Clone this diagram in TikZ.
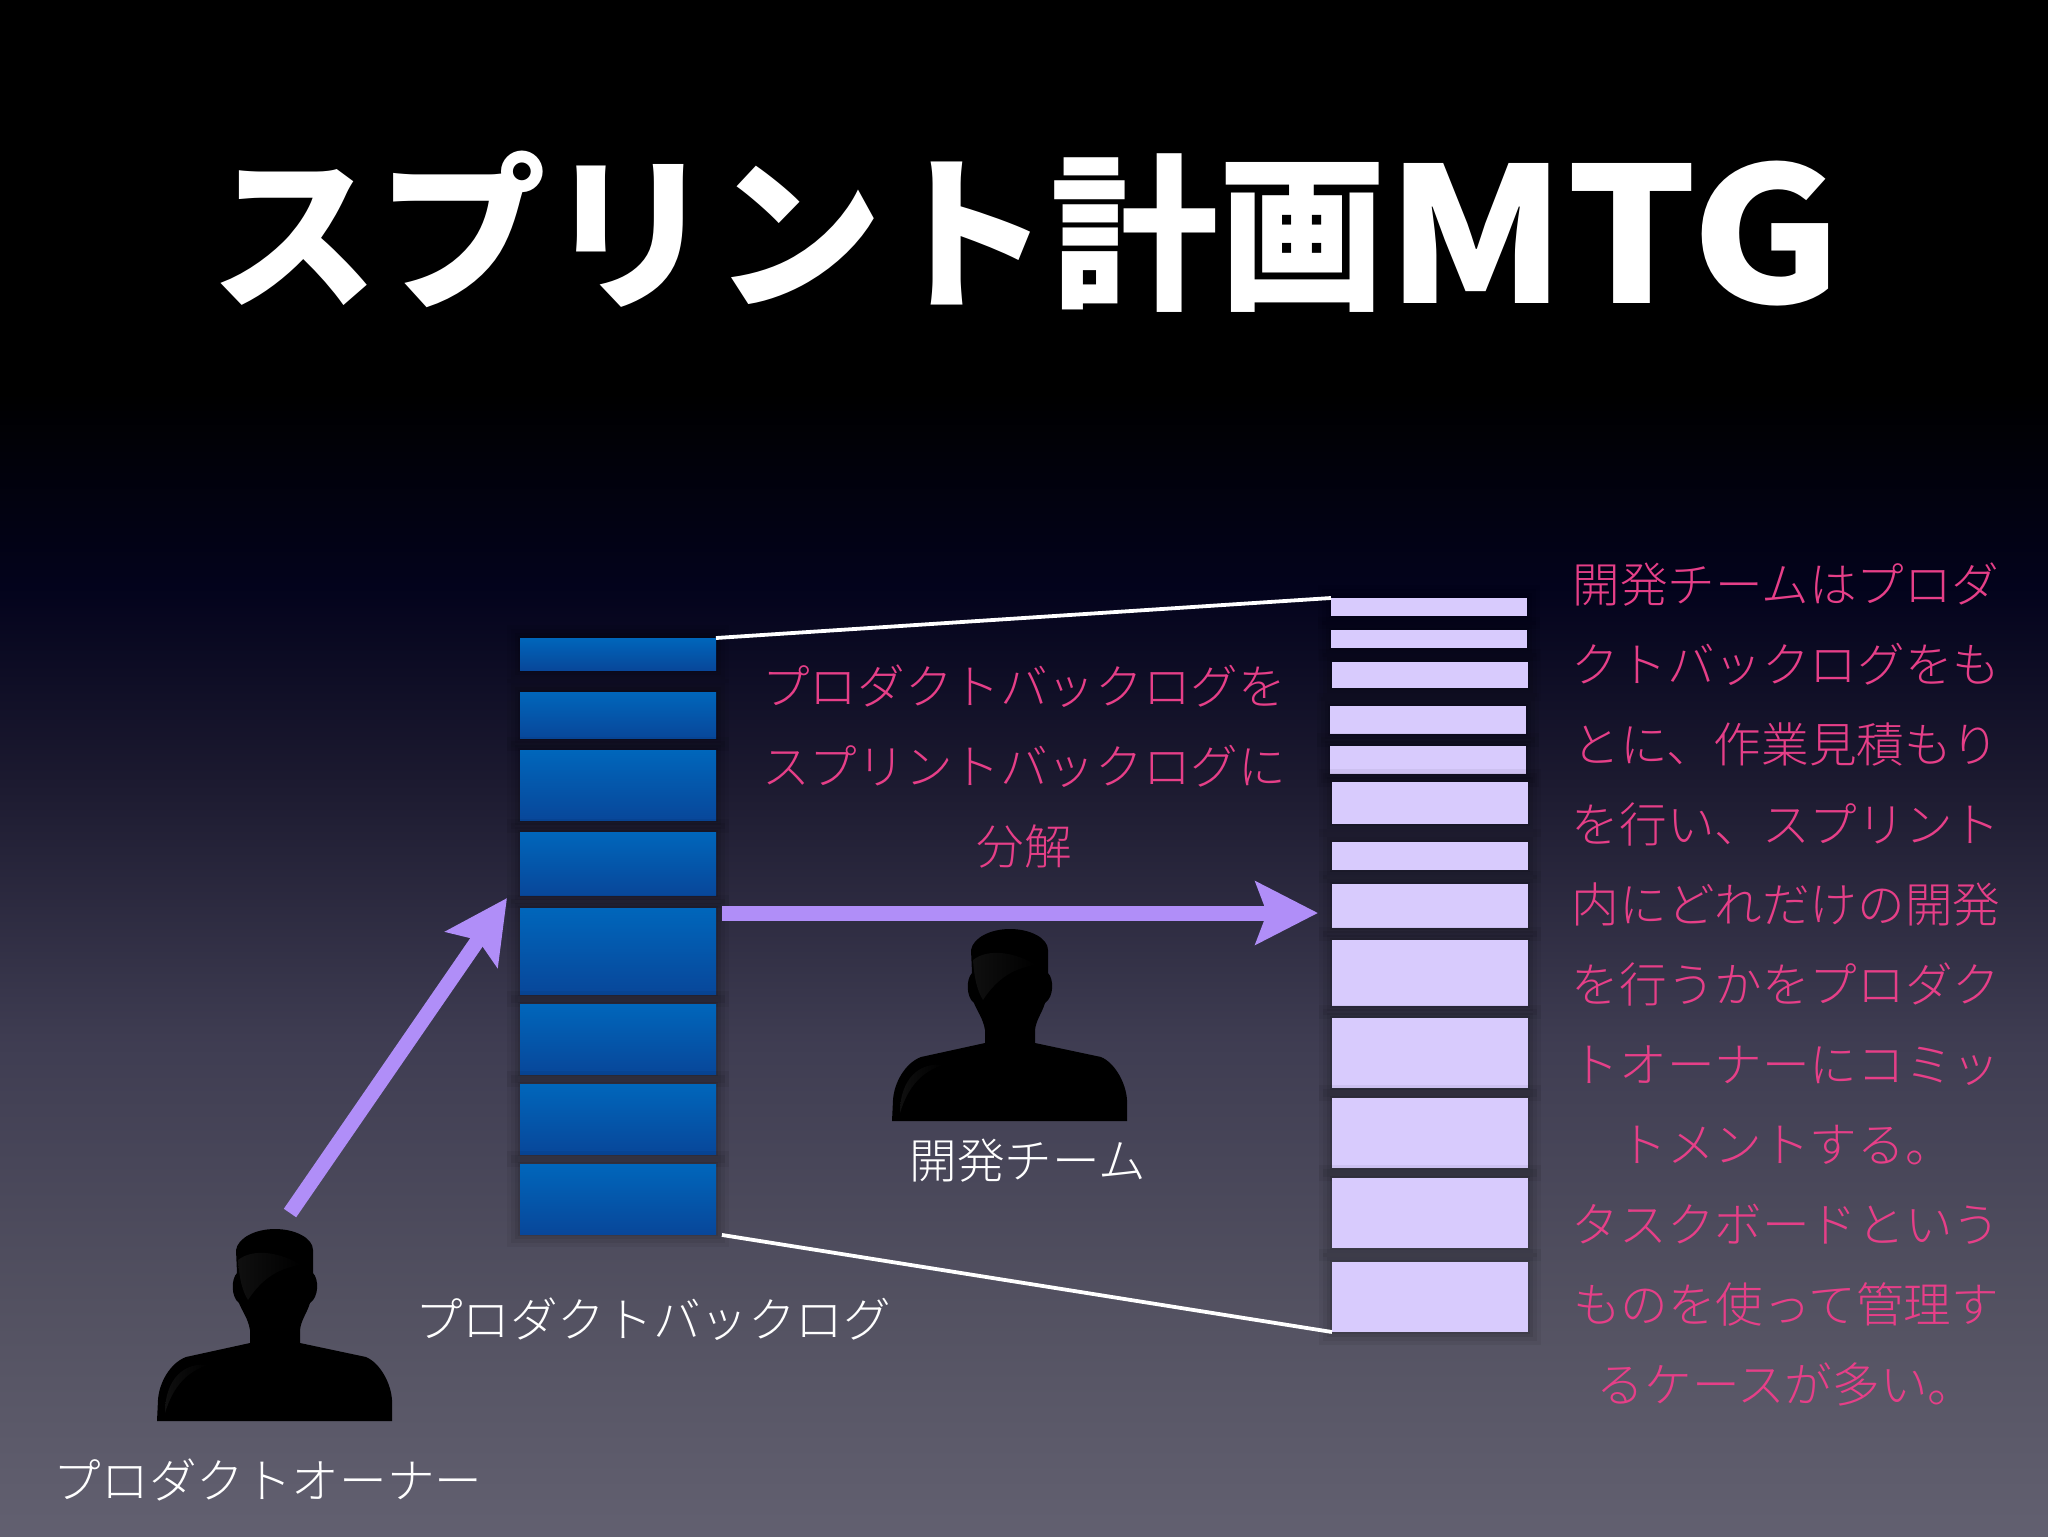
\documentclass[tikz,border=0pt]{standalone}
\usepackage{fontspec}
\setmainfont{Noto Sans CJK JP}[UprightFont=* Light, BoldFont=* Black]
\usetikzlibrary{arrows.meta}

\pgfdeclareverticalshading{slidebg}{100bp}{
	rgb(0bp)=(.384,.376,.439);
	rgb(25bp)=(.384,.376,.439);
	rgb(32.5bp)=(.325,.318,.38);
	rgb(41bp)=(.247,.239,.322);
	rgb(49.5bp)=(.11,.102,.188);
	rgb(55.9bp)=(.012,.012,.11);
	rgb(62.2bp)=(0,0,0);
	rgb(100bp)=(0,0,0)}

\definecolor{barblue}{HTML}{0066BB}
\definecolor{bardeep}{HTML}{08479A}
\definecolor{barlilac}{HTML}{D8CBFD}
\definecolor{arrowlilac}{HTML}{B08EF8}
\definecolor{notepink}{HTML}{E63F88}

\tikzset{
	softedge/.style={
		preaction={draw=black, draw opacity=.05, line width=13pt},
		preaction={draw=black, draw opacity=.06, line width=9pt},
		preaction={draw=black, draw opacity=.07, line width=5pt},
		preaction={draw=black, draw opacity=.08, line width=2pt}},
	backlogbar/.style={softedge, rectangle, inner sep=0pt, outer sep=0pt, minimum width=98pt,
		top color=barblue, bottom color=bardeep},
	sprintbar/.style={softedge, rectangle, inner sep=0pt, outer sep=0pt, minimum width=98pt,
		fill=barlilac},
	edgeline/.style={white, line width=1.9pt},
	bigarrow/.style={arrowlilac, line width=7.5pt, -{Stealth[length=31pt, width=31pt, inset=5.5pt]}},
	caption/.style={white, font=\fontsize{23.8}{40}\selectfont, align=center},
	note/.style={notepink, font=\fontsize{23.8}{40}\selectfont, align=center},
	person/.pic={
		\fill[black] (-118,0) -- (-117,-21) .. controls (-116,-38) and (-105,-58) .. (-89,-64)
			-- (-25,-78) -- (-25,-91) .. controls (-27,-103) and (-33,-110) .. (-36,-118)
			.. controls (-44,-124) and (-44,-142) .. (-38,-148) -- (-39,-171)
			.. controls (-37,-183) and (-20,-192) .. (0,-192)
			.. controls (20,-192) and (38,-183) .. (38,-171) -- (38,-148)
			.. controls (44,-142) and (44,-124) .. (35,-118)
			.. controls (32,-108) and (26,-101) .. (25,-91) -- (25,-78)
			-- (91,-64) .. controls (105,-58) and (116,-38) .. (117,-21) -- (117,0) -- cycle;
		\shade[left color=black!94, right color=black] (-37,-161) .. controls (-36,-145) and (-33,-130) .. (-27,-121)
			.. controls (-12,-144) and (5,-153) .. (26,-156)
			.. controls (5,-169) and (-22,-173) .. (-37,-161) -- cycle;
		\shade[left color=black!94, right color=black] (-110,-8) .. controls (-102,-34) and (-89,-49) .. (-67,-56)
			.. controls (-89,-59) and (-110,-44) .. (-110,-8) -- cycle;
	}
}

\begin{document}
\begin{tikzpicture}[x=0.5pt, y=-0.5pt]

	% Background
	\useasboundingbox (0,0) rectangle (2048,1536);
	\shade[shading=slidebg] (0,0) rectangle (2048,1536);

	% Title
	\node[white, font=\fontsize{84}{84}\selectfont\bfseries, inner sep=0pt] (title) at (1026,232)
		{スプリント計画\raisebox{-3.5pt}{\scalebox{1.09}[1]{\fontsize{94}{94}\selectfont MTG}}};

	% Product backlog
	\foreach \i/\c/\h in {1/654/32, 2/715/46, 3/785/70, 4/863.5/63, 5/951/86, 6/1039/70, 7/1119/70, 8/1199/70}
		\node[backlogbar, minimum height=\h*0.5pt] (blue\i) at (618,\c) {};

	% Sprint backlog
	\foreach \i/\x/\c/\h in {1/1429/607/18, 2/1429/639/18, 3/1430/675/26, 4/1428/720/28, 5/1428/760/28,
		6/1430/803/42, 7/1430/856/28, 8/1430/906/44, 9/1430/973/66, 10/1430/1053/70,
		11/1430/1133/70, 12/1430/1213/70, 13/1430/1297/70}
		\node[sprintbar, minimum height=\h*0.5pt] (lite\i) at (\x,\c) {};

	% Lines between the backlogs
	\draw[edgeline] (blue1.north east) -- (lite1.north west);
	\draw[edgeline, shorten <=3pt] (blue8.south east) -- (lite13.south west);

	% Arrows
	\coordinate (ownerfoot) at (290,1213);
	\coordinate (ownertip) at (507,898);
	\coordinate (flowfoot) at (722,913);
	\coordinate (flowtip) at (1318,913);
	\draw[bigarrow] (ownerfoot) -- (ownertip);
	\draw[bigarrow] (flowfoot) -- (flowtip);

	% People
	\pic (owner) at (275,1421) {person};
	\pic (team) at (1010,1121) {person};

	% Captions
	\node[caption] (backloglabel) at (653,1319) {プロダクトバックログ};
	\node[caption] (ownerlabel) at (268,1480) {プロダクトオーナー};
	\node[caption] (teamlabel) at (1028,1161) {開発チーム};

	% Notes
	\node[note] (middlenote) at (1024,766) {プロダクトバックログを\\スプリントバックログに\\分解};
	\node[note] (sidenote) at (1786,984) {開発チームはプロダ\\クトバックログをも\\とに、作業見積もり\\を行い、スプリント\\内にどれだけの開発\\を行うかをプロダク\\トオーナーにコミッ\\トメントする。\\タスクボードという\\ものを使って管理す\\るケースが多い。};
\end{tikzpicture}
\end{document}
